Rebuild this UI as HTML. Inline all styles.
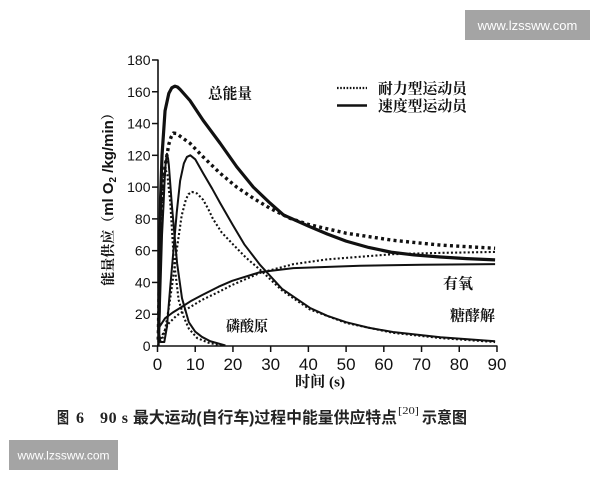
<!DOCTYPE html>
<html>
<head>
<meta charset="utf-8">
<style>
html,body{margin:0;padding:0;background:#fff;}
svg{display:block;}
.cjk{font-family:"Liberation Serif","Noto Serif CJK SC",serif;font-weight:700;}
.num{font-family:"Liberation Sans",Arial,sans-serif;fill:#111;}
</style>
</head>
<body>
<svg width="600" height="480" viewBox="0 0 600 480" xmlns="http://www.w3.org/2000/svg">
<rect width="600" height="480" fill="#fff"/>

<!-- watermarks -->
<rect x="465" y="10" width="125" height="30" fill="#a4a4a4"/>
<text x="527.5" y="30" font-family="Liberation Sans, sans-serif" font-size="13" fill="#fff" text-anchor="middle">www.lzssww.com</text>
<rect x="9" y="440" width="109" height="30" fill="#a4a4a4"/>
<text x="63.5" y="459.5" font-family="Liberation Sans, sans-serif" font-size="12" fill="#fff" text-anchor="middle">www.lzssww.com</text>

<!-- axes -->
<g stroke="#111" stroke-width="1.6" fill="none">
<line x1="158" y1="59.5" x2="158" y2="346"/>
<line x1="157.2" y1="346" x2="497.5" y2="346"/>
</g>
<g stroke="#111" stroke-width="1.5">
<line x1="152" y1="346" x2="158" y2="346"/>
<line x1="152" y1="314.22" x2="158" y2="314.22"/>
<line x1="152" y1="282.44" x2="158" y2="282.44"/>
<line x1="152" y1="250.66" x2="158" y2="250.66"/>
<line x1="152" y1="218.88" x2="158" y2="218.88"/>
<line x1="152" y1="187.1" x2="158" y2="187.1"/>
<line x1="152" y1="155.32" x2="158" y2="155.32"/>
<line x1="152" y1="123.54" x2="158" y2="123.54"/>
<line x1="152" y1="91.76" x2="158" y2="91.76"/>
<line x1="152" y1="59.98" x2="158" y2="59.98"/>
<line x1="157.5" y1="346" x2="157.5" y2="352"/>
<line x1="195.22" y1="346" x2="195.22" y2="352"/>
<line x1="232.94" y1="346" x2="232.94" y2="352"/>
<line x1="270.66" y1="346" x2="270.66" y2="352"/>
<line x1="308.38" y1="346" x2="308.38" y2="352"/>
<line x1="346.1" y1="346" x2="346.1" y2="352"/>
<line x1="383.82" y1="346" x2="383.82" y2="352"/>
<line x1="421.54" y1="346" x2="421.54" y2="352"/>
<line x1="459.26" y1="346" x2="459.26" y2="352"/>
<line x1="496.98" y1="346" x2="496.98" y2="352"/>
</g>
<g class="num" font-size="14" text-anchor="end">
<text x="150.5" y="351">0</text>
<text x="150.5" y="319.22">20</text>
<text x="150.5" y="287.44">40</text>
<text x="150.5" y="255.66">60</text>
<text x="150.5" y="223.88">80</text>
<text x="150.5" y="192.1">100</text>
<text x="150.5" y="160.32">120</text>
<text x="150.5" y="128.54">140</text>
<text x="150.5" y="96.76">160</text>
<text x="150.5" y="64.98">180</text>
</g>
<g class="num" font-size="17" text-anchor="middle">
<text x="157.5" y="370">0</text>
<text x="195.22" y="370">10</text>
<text x="232.94" y="370">20</text>
<text x="270.66" y="370">30</text>
<text x="308.38" y="370">40</text>
<text x="346.1" y="370">50</text>
<text x="383.82" y="370">60</text>
<text x="421.54" y="370">70</text>
<text x="459.26" y="370">80</text>
<text x="496.98" y="370">90</text>
</g>

<!-- axis titles -->
<text x="295" y="386.5" class="cjk" font-size="15" fill="#111" textLength="50" lengthAdjust="spacingAndGlyphs">时间 (s)</text>
<g transform="translate(113,196) rotate(-90)">
<text x="0" y="0" text-anchor="middle" fill="#111" font-size="15"><tspan class="cjk" font-size="14">能量供应（</tspan><tspan font-family="Liberation Sans, sans-serif" font-weight="700">ml O</tspan><tspan font-family="Liberation Sans, sans-serif" font-weight="700" font-size="10" dy="3">2</tspan><tspan font-family="Liberation Sans, sans-serif" font-weight="700" dy="-3"> /kg/min</tspan><tspan class="cjk" font-size="14">）</tspan></text>
</g>

<!-- curves -->
<g fill="none" stroke="#111" stroke-linejoin="round">
<!-- speed total -->
<polyline stroke-width="3.2" points="158.63,333.29 159.20,311.04 159.76,250.66 160.52,199.81 162.03,155.32 165.04,110.83 168.82,93.35 171.83,87.79 174.85,86.20 177.49,87.0 180.13,89.38 189.94,100.50 203.14,120.36 220.12,143.24 236.71,166.76 253.31,187.1 269.91,202.99 283.48,214.91 308.38,226.03 327.24,233.98 346.1,241.13 368.73,247.48 391.36,252.25 414.0,254.95 440.4,257.02 466.8,258.6 495.09,259.88"/>
<!-- endurance total -->
<polyline stroke-width="3.4" stroke-dasharray="3 3.3" points="158.25,339.64 159.01,298.33 160.14,242.71 162.03,201.4 165.04,166.44 168.82,144.2 171.08,137.05 173.34,133.07 176.36,133.4 180.13,136.25 189.94,143.24 203.14,156.91 220.12,173.28 236.71,187.1 253.31,198.22 269.91,208.23 289.52,218.09 308.38,224.44 346.1,233.18 393.25,240.33 440.4,245.1 495.09,248.28"/>
<!-- speed PCr -->
<polyline stroke-width="2" points="158.63,346 160.14,298.33 162.03,234.77 163.54,204.58 165.04,171.21 165.8,161.68 166.93,153.73 168.06,158.5 168.82,164.85 171.83,204.58 174.47,234.77 177.11,263.37 182.02,298.33 188.81,322.16 195.22,331.7 202.01,336.94 210.31,341.23 225.4,345.52"/>
<!-- endurance PCr -->
<polyline stroke-width="2.1" stroke-dasharray="2 2.2" points="158.25,346 159.76,290.38 161.27,234.77 163.16,187.1 165.04,168.03 167.31,174.39 170.32,202.99 173.72,258.6 178.62,299.92 183.9,317.4 188.81,328.52 197.11,338.05 208.8,342.82 221.62,345.52"/>
<!-- speed glycolysis -->
<polyline stroke-width="2" points="159.01,331.7 160.14,341.23 161.27,342.03 164.29,342.03 166.93,326.93 169.95,290.38 173.72,247.48 176.74,212.52 180.13,180.74 183.9,163.26 186.92,156.91 190.32,155.32 195.22,159.29 203.14,173.28 212.19,188.69 220.12,202.99 232.94,225.24 244.26,244.3 260.10,264.96 281.98,288.8 309.89,307.86 327.24,315.81 346.1,322.16 368.73,327.73 392.87,332.02 440.4,337.26 495.09,341.23"/>
<!-- endurance glycolysis -->
<polyline stroke-width="2.1" stroke-dasharray="2 2.2" points="159.39,341.23 162.03,339.64 165.04,330.11 168.82,307.86 171.83,287.21 177.11,247.48 181.64,215.7 185.79,199.81 188.43,194.25 191.83,191.87 197.11,193.46 203.14,199.81 208.42,209.35 212.95,218.88 221.62,232.39 232.94,244.3 246.14,257.81 260.10,269.73 281.98,290.38 309.89,309.45 346.1,322.96 392.87,332.81 440.4,338.05 495.09,342.03"/>
<!-- speed aerobic -->
<polyline stroke-width="2" points="158.25,333.29 159.39,326.93 165.04,318.35 172.59,312.63 182.02,306.75 191.45,300.71 202.01,295.15 218.61,286.73 232.19,280.85 260.10,272.11 293.29,268.14 360.06,265.76 421.54,264.8 495.09,264.17"/>
<!-- endurance aerobic -->
<polyline stroke-width="2.1" stroke-dasharray="2 2.2" points="159.39,342.82 160.14,339.96 163.16,333.29 168.82,323.28 176.36,315.81 185.41,309.93 202.01,299.92 218.61,291.97 232.19,284.98 260.10,272.91 293.29,264.17 326.86,259.4 393.25,254.16 440.4,252.88 495.09,251.93"/>
</g>

<!-- labels -->
<text x="208" y="98.5" class="cjk" font-size="15" fill="#111" textLength="44" lengthAdjust="spacingAndGlyphs">总能量</text>
<text x="226" y="331" class="cjk" font-size="15" fill="#111" textLength="42" lengthAdjust="spacingAndGlyphs">磷酸原</text>
<text x="450" y="320.5" class="cjk" font-size="15" fill="#111" textLength="45" lengthAdjust="spacingAndGlyphs">糖酵解</text>
<text x="443" y="288.5" class="cjk" font-size="15" fill="#111" textLength="30" lengthAdjust="spacingAndGlyphs">有氧</text>

<!-- legend -->
<line x1="337" y1="88" x2="367" y2="88" stroke="#111" stroke-width="2.2" stroke-dasharray="1.6 1.6"/>
<text x="378" y="93.5" class="cjk" font-size="15" fill="#111" textLength="89" lengthAdjust="spacingAndGlyphs">耐力型运动员</text>
<line x1="337" y1="105.5" x2="367" y2="105.5" stroke="#111" stroke-width="2.6"/>
<text x="378" y="111" class="cjk" font-size="15" fill="#111" textLength="89" lengthAdjust="spacingAndGlyphs">速度型运动员</text>

<!-- caption -->
<g fill="#222" font-size="16">
<text x="57" y="423" font-family="Liberation Sans, 'Noto Sans CJK SC', sans-serif" font-weight="700" textLength="12" lengthAdjust="spacingAndGlyphs">图</text>
<text x="76" y="423" font-family="Liberation Serif, serif" font-weight="700">6</text>
<text x="100" y="423" font-family="Liberation Serif, serif" font-weight="700" textLength="28" lengthAdjust="spacing">90 s</text>
<text x="133" y="423" font-family="Liberation Sans, 'Noto Sans CJK SC', sans-serif" font-weight="700" textLength="264" lengthAdjust="spacingAndGlyphs">最大运动(自行车)过程中能量供应特点</text>
<text x="398" y="414" font-family="Liberation Serif, serif" font-size="10" textLength="21" lengthAdjust="spacingAndGlyphs">[20]</text>
<text x="422" y="423" font-family="Liberation Sans, 'Noto Sans CJK SC', sans-serif" font-weight="700" textLength="45" lengthAdjust="spacingAndGlyphs">示意图</text>
</g>
</svg>
</body>
</html>
